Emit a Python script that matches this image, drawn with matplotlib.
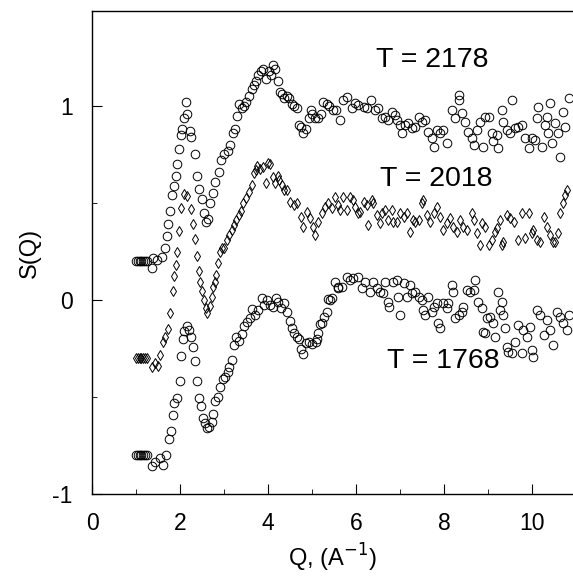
import matplotlib
matplotlib.use("Agg")
import matplotlib.pyplot as plt
from matplotlib.ticker import MultipleLocator, FuncFormatter

plt.rcParams['font.family'] = ['Liberation Sans', 'DejaVu Sans']

# T = 2178 (circles)
q_2178 = [1.0, 1.04, 1.08, 1.12, 1.16, 1.2, 1.24, 1.36, 1.39, 1.47, 1.58, 1.66, 1.70, 1.73, 1.77,
          1.82, 1.87, 1.9, 1.93, 1.98, 2.02, 2.05, 2.09, 2.14, 2.16, 2.23, 2.26, 2.34, 2.38, 2.43,
          2.5, 2.55, 2.59, 2.63, 2.68, 2.74, 2.8, 2.89, 2.92, 3.0, 3.08, 3.14, 3.2, 3.25, 3.29,
          3.34, 3.4, 3.45, 3.5, 3.57, 3.63, 3.67, 3.72, 3.78, 3.84, 3.89, 3.95, 4.02, 4.07, 4.12,
          4.16, 4.22, 4.27, 4.32, 4.37, 4.42, 4.48, 4.54, 4.59, 4.65, 4.71, 4.75, 4.8, 4.86, 4.92,
          4.97, 5.01, 5.07, 5.14, 5.2, 5.26, 5.33, 5.39, 5.47, 5.55,
          5.64, 5.71, 5.79, 5.90, 5.98, 6.05, 6.17, 6.24, 6.33, 6.43, 6.51, 6.58, 6.66, 6.73, 6.81,
          6.89, 6.92, 7.0, 7.04, 7.11, 7.19, 7.27, 7.34, 7.42, 7.49, 7.57, 7.64, 7.72, 7.76, 7.83,
          7.91, 7.98, 8.06, 8.17, 8.25, 8.33, 8.35, 8.40, 8.48, 8.55, 8.63, 8.67, 8.74, 8.82, 8.88,
          8.93, 9.01, 9.08, 9.12, 9.20, 9.23, 9.31, 9.35, 9.42, 9.50, 9.54, 9.61, 9.69, 9.76, 9.84,
          9.92, 9.99, 10.07, 10.11, 10.14, 10.22, 10.30, 10.33, 10.37, 10.41, 10.45, 10.52, 10.60,
          10.64, 10.71, 10.75, 10.83]
s_2178 = [0.2, 0.2, 0.2, 0.2, 0.2, 0.2, 0.2, 0.163, 0.215, 0.206, 0.22, 0.27, 0.33, 0.39, 0.46,
          0.54, 0.59, 0.64, 0.70, 0.78, 0.85, 0.88, 0.94, 1.02, 0.96, 0.87, 0.84, 0.75, 0.64, 0.57,
          0.52, 0.45, 0.40, 0.42, 0.50, 0.55, 0.61, 0.66, 0.72, 0.75, 0.77, 0.80, 0.86, 0.88, 0.95,
          1.01, 0.99, 1.0, 1.02, 1.05, 1.09, 1.11, 1.13, 1.16, 1.18, 1.19, 1.14, 1.18, 1.16, 1.21,
          1.19, 1.13, 1.07, 1.06, 1.04, 1.05, 1.04, 1.01, 1.0, 0.99, 0.90, 0.89, 0.86, 0.88, 0.94,
          0.98, 0.96, 0.94, 0.94, 0.96, 1.02, 1.01, 1.0, 0.98, 0.98,
          0.928, 1.031, 1.048, 0.988, 1.014, 1.005, 0.997, 0.988, 1.031, 0.98, 0.988, 0.937, 0.945, 0.928, 0.971,
          0.954, 0.928, 0.902, 0.859, 0.902, 0.911, 0.885, 0.894, 0.945, 0.92, 0.928, 0.868, 0.834, 0.791, 0.877,
          0.859, 0.877, 0.808, 0.98, 0.937, 1.031, 1.057, 0.963, 0.92, 0.868, 0.834, 0.799, 0.877, 0.92, 0.791,
          0.945, 0.945, 0.859, 0.817, 0.851, 0.782, 0.98, 0.92, 0.877, 0.859, 1.031, 0.885, 0.894, 0.902, 0.834,
          0.782, 0.834, 0.825, 0.937, 0.997, 0.791, 0.902, 0.945, 0.859, 1.014, 0.808, 0.911, 0.859,
          0.739, 0.971, 0.894, 1.04]

# T = 2018 (diamonds)
q_2018 = [1.0, 1.04, 1.08, 1.12, 1.16, 1.2, 1.24, 1.36, 1.43, 1.51, 1.55, 1.61, 1.66, 1.73, 1.77,
          1.83, 1.86, 1.91, 1.94, 1.98, 2.02, 2.1, 2.15, 2.25, 2.3, 2.34, 2.38, 2.42, 2.45, 2.5,
          2.55, 2.59, 2.62, 2.67, 2.72, 2.76, 2.79, 2.82, 2.87, 2.91, 2.95, 3.0, 3.06, 3.11, 3.17,
          3.23, 3.27, 3.33, 3.38, 3.43, 3.49, 3.57, 3.63, 3.67, 3.72, 3.76, 3.82, 3.88, 3.95, 4.01,
          4.05, 4.11, 4.16, 4.22, 4.26, 4.31, 4.36, 4.42, 4.5, 4.58, 4.65, 4.74, 4.8, 4.88, 4.95,
          5.03, 5.07, 5.14, 5.22, 5.30, 5.37, 5.45, 5.52, 5.60, 5.64, 5.71, 5.79, 5.86, 5.94, 5.98,
          6.05, 6.09, 6.17, 6.24, 6.28, 6.36, 6.39, 6.47, 6.55, 6.58, 6.66, 6.73, 6.81, 6.85, 6.92,
          7.0, 7.08, 7.15, 7.23, 7.30, 7.34, 7.42, 7.49, 7.53, 7.61, 7.68, 7.76, 7.83, 7.91, 7.98,
          8.06, 8.14, 8.21, 8.29, 8.36, 8.44, 8.52, 8.63, 8.67, 8.74, 8.82, 8.86, 8.93, 9.01, 9.08,
          9.16, 9.20, 9.27, 9.31, 9.35, 9.42, 9.50, 9.58, 9.69, 9.76, 9.84, 9.92, 9.99, 10.03, 10.11,
          10.18, 10.26, 10.33, 10.41, 10.48, 10.52, 10.60, 10.64, 10.71, 10.75, 10.79]
s_2018 = [-0.3, -0.3, -0.3, -0.3, -0.3, -0.3, -0.3, -0.343, -0.326, -0.338, -0.284, -0.215, -0.189, -0.151, -0.065,
          0.048, 0.124, 0.18, 0.249, 0.357, 0.472, 0.546, 0.536, 0.467, 0.39, 0.313, 0.229, 0.151, 0.091, 0.048,
          0.0, -0.04, -0.065, -0.031, 0.017, 0.065, 0.094, 0.129, 0.189, 0.249, 0.266, 0.266, 0.309, 0.335, 0.361,
          0.387, 0.412, 0.438, 0.46, 0.502, 0.524, 0.558, 0.593, 0.653, 0.67, 0.69, 0.673, 0.687, 0.605, 0.705,
          0.701, 0.636, 0.602, 0.641, 0.619, 0.593, 0.567, 0.567, 0.507, 0.49, 0.50, 0.43, 0.378, 0.455, 0.421,
          0.378, 0.335, 0.404, 0.447, 0.481, 0.499, 0.473, 0.533, 0.49, 0.464, 0.533, 0.464, 0.533, 0.516, 0.481,
          0.447, 0.456, 0.507, 0.49, 0.387, 0.516, 0.499, 0.438, 0.395, 0.447, 0.464, 0.413, 0.464, 0.404, 0.404,
          0.447, 0.43, 0.447, 0.353, 0.413, 0.404, 0.413, 0.499, 0.516, 0.438, 0.404, 0.447, 0.481, 0.43, 0.361,
          0.395, 0.421, 0.378, 0.353, 0.413, 0.378, 0.361, 0.447, 0.413, 0.344, 0.284, 0.395, 0.378, 0.284, 0.31,
          0.353, 0.37, 0.413, 0.284, 0.301, 0.438, 0.421, 0.404, 0.31, 0.447, 0.318, 0.447, 0.344, 0.361, 0.31,
          0.301, 0.43, 0.378, 0.335, 0.30, 0.301, 0.344, 0.447, 0.499, 0.541, 0.567]

# T = 1768 (circles)
q_1768 = [1.0, 1.04, 1.08, 1.12, 1.16, 1.2, 1.24, 1.36, 1.43, 1.55, 1.62, 1.68, 1.74, 1.79, 1.83,
          1.87, 1.94, 1.99, 2.02, 2.06, 2.1, 2.15, 2.2, 2.25, 2.3, 2.34, 2.38, 2.42, 2.48, 2.53,
          2.57, 2.62, 2.66, 2.72, 2.76, 2.79, 2.87, 2.91, 2.97, 3.02, 3.08, 3.12, 3.17, 3.23, 3.27,
          3.35, 3.4, 3.45, 3.52, 3.58, 3.64, 3.71, 3.78, 3.86, 3.91, 3.97, 4.05, 4.11, 4.18, 4.23,
          4.29, 4.37, 4.42, 4.49, 4.54, 4.58, 4.65, 4.71, 4.76, 4.8, 4.86, 4.92, 4.99, 5.08, 5.11,
          5.14, 5.18, 5.22, 5.27, 5.33, 5.37, 5.41, 5.45, 5.52, 5.58, 5.60, 5.67, 5.79, 5.86, 5.94,
          6.05, 6.13, 6.20, 6.32, 6.39, 6.47, 6.55, 6.62, 6.66, 6.73, 6.76, 6.85, 6.92, 6.96, 7.0,
          7.08, 7.15, 7.23, 7.26, 7.34, 7.42, 7.49, 7.53, 7.57, 7.64, 7.72, 7.76, 7.83, 7.87, 7.91,
          7.98, 8.06, 8.10, 8.17, 8.21, 8.25, 8.33, 8.40, 8.44, 8.52, 8.59, 8.67, 8.70, 8.78, 8.86,
          8.89, 8.93, 8.97, 9.04, 9.12, 9.16, 9.23, 9.27, 9.31, 9.35, 9.39, 9.42, 9.46, 9.54, 9.61,
          9.69, 9.76, 9.80, 9.88, 9.95, 9.99, 10.03, 10.11, 10.18, 10.26, 10.33, 10.41, 10.48, 10.56,
          10.64, 10.71, 10.79, 10.83]
s_1768 = [-0.8, -0.8, -0.8, -0.8, -0.8, -0.8, -0.8, -0.856, -0.833, -0.816, -0.85, -0.8, -0.718, -0.674, -0.593,
          -0.529, -0.507, -0.418, -0.287, -0.203, -0.16, -0.134, -0.155, -0.192, -0.244, -0.313, -0.418, -0.507, -0.547, -0.61,
          -0.636, -0.658, -0.653, -0.627, -0.589, -0.52, -0.498, -0.45, -0.409, -0.395, -0.37, -0.344, -0.309, -0.232, -0.189,
          -0.21, -0.175, -0.134, -0.112, -0.095, -0.047, -0.077, -0.052, 0.012, -0.026, 0.0, -0.026, -0.038, 0.009, -0.009,
          -0.043, -0.014, -0.06, -0.107, -0.146, -0.172, -0.189, -0.203, -0.254, -0.278, -0.22, -0.215, -0.227, -0.215, -0.203,
          -0.168, -0.124, -0.12, -0.089, -0.06, 0.003, 0.0, 0.009, 0.095, 0.065, 0.06, 0.069, 0.12, 0.103, 0.112,
          0.12, 0.06, 0.095, 0.043, 0.095, 0.06, 0.043, 0.035, 0.095, -0.008, -0.038, 0.095, 0.103, 0.017, -0.077,
          0.086, 0.017, 0.077, 0.035, 0.043, 0.017, 0.0, -0.051, -0.077, 0.017, -0.06, -0.034, -0.017, -0.12, -0.146,
          -0.017, -0.043, -0.017, 0.077, 0.043, -0.094, -0.077, -0.06, -0.034, 0.052, 0.043, 0.052, 0.103, -0.008, -0.043,
          -0.163, -0.172, -0.094, -0.086, -0.12, -0.189, 0.043, -0.051, -0.008, -0.077, -0.146, -0.24, -0.266, -0.275, -0.215,
          -0.129, -0.275, -0.155, -0.189, -0.137, -0.258, -0.292, -0.051, -0.077, -0.18, -0.103, -0.155, -0.232, -0.06,
          -0.086, -0.12, -0.155, -0.077]

labels = ["T = 2178", "T = 2018", "T = 1768"]
label_q = [7.73, 7.83, 7.99]
label_s = [1.235, 0.626, -0.312]

x_ticks = [0, 2, 4, 6, 8, 10]
y_ticks = [-1, 0, 1]

fig = plt.figure(figsize=(5.73, 5.76), dpi=100)
ax = fig.add_axes([0.1606, 0.1424, 0.8394, 0.8386])

ax.plot(q_2178, s_2178, linestyle='none', marker='o', markersize=6.2,
        markerfacecolor='none', markeredgecolor='black', markeredgewidth=0.7)
ax.plot(q_2018, s_2018, linestyle='none', marker='d', markersize=5.0,
        markerfacecolor='none', markeredgecolor='black', markeredgewidth=0.7)
ax.plot(q_1768, s_1768, linestyle='none', marker='o', markersize=6.2,
        markerfacecolor='none', markeredgecolor='black', markeredgewidth=0.7)

for t, xq, ys in zip(labels, label_q, label_s):
    ax.text(xq, ys, t, fontsize=20.5, ha='center', va='center')

ax.set_xlim(0, 10.93)
ax.set_ylim(-1, 1.49)
ax.set_xticks(x_ticks)
ax.set_yticks(y_ticks)
ax.xaxis.set_minor_locator(MultipleLocator(1))
ax.yaxis.set_minor_locator(MultipleLocator(0.5))
ax.yaxis.set_major_formatter(FuncFormatter(lambda v, p: f"{int(round(v))}".replace('\u2212', '-')))
ax.tick_params(which='major', direction='in', length=7, width=0.8, labelsize=16.5)
ax.tick_params(axis='x', which='major', pad=13)
ax.tick_params(axis='y', which='major', pad=14)
ax.tick_params(which='minor', direction='in', length=3.5, width=0.6)
ax.spines['right'].set_visible(False)
for sp in ['left', 'bottom', 'top']:
    ax.spines[sp].set_linewidth(1.0)

ax.set_xlabel("Q, (A$^{-1}$)", fontsize=17, labelpad=5)
ax.set_ylabel("S(Q)", fontsize=17, labelpad=8)

fig.savefig("out.png", dpi=100)
